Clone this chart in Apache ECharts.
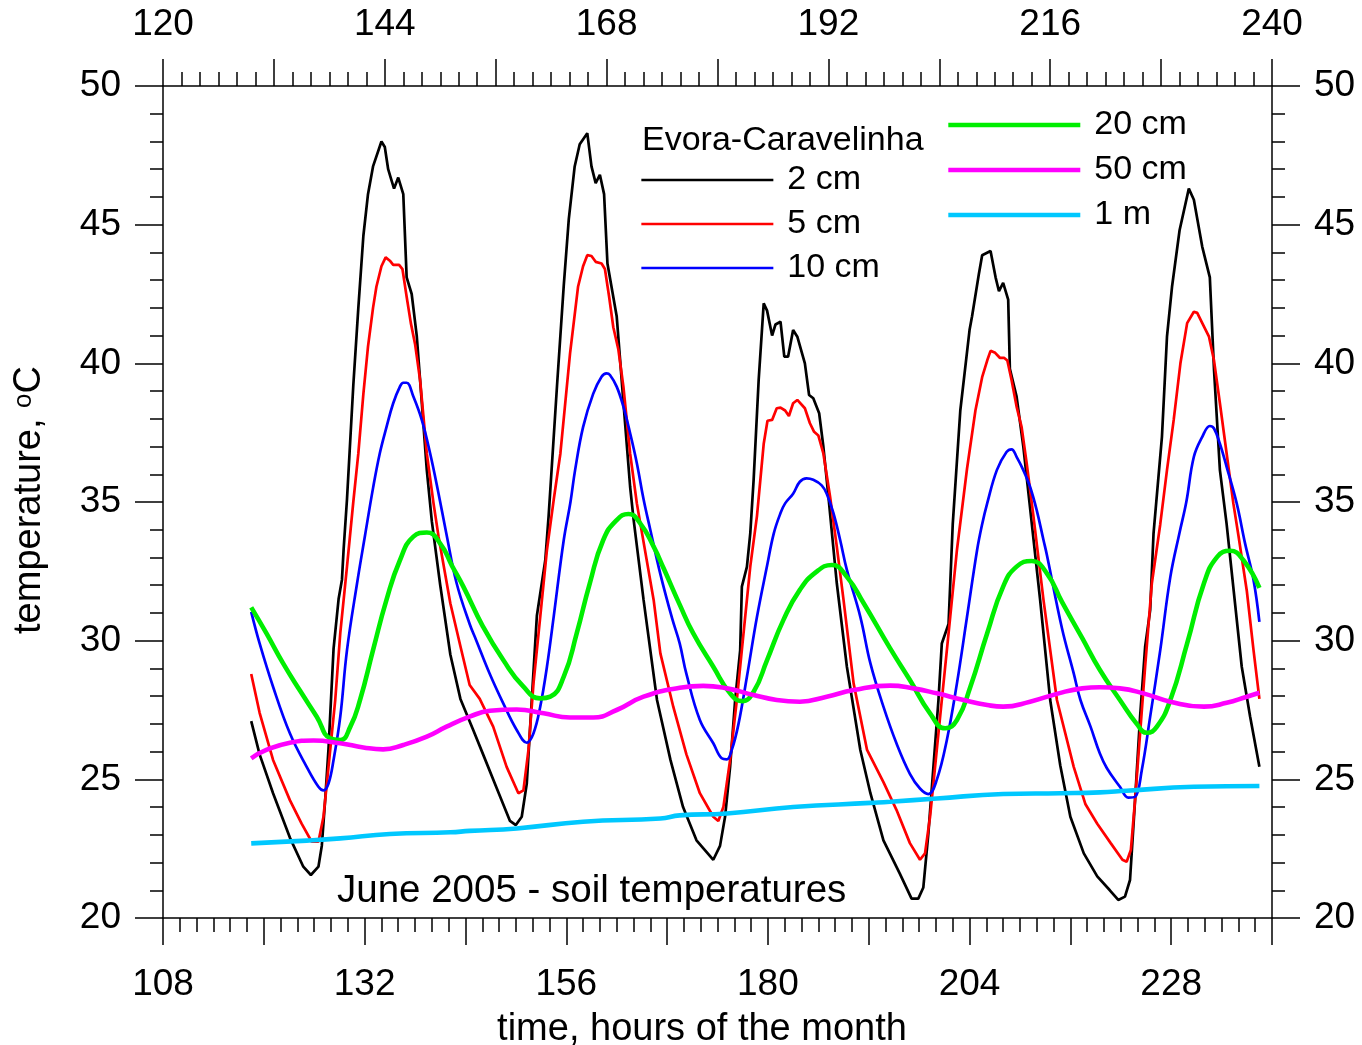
<!DOCTYPE html>
<html>
<head>
<meta charset="utf-8">
<script src="https://cdn.jsdelivr.net/npm/echarts@6/dist/echarts.min.js"></script>
<style>
html,body{margin:0;padding:0;background:#fff;}
#chart{width:1362px;height:1045px;}
</style>
</head>
<body>
<div id="chart"></div>
<script>
// Data: [hour of month, temperature °C]
var seriesNames = ['2 cm','5 cm','10 cm','20 cm','50 cm','1 m'];
var d2cm = [[118.5,27.1],[119.5,25.9],[121.1,24.5],[123.1,22.9],[124.7,21.85],[125.6,21.55],[126.5,21.85],[126.9,22.6],[127.3,24.25],[127.7,26.1],[128.3,29.7],[128.9,31.5],[129.3,32.2],[129.5,33.3],[129.9,35.1],[130.65,39.2],[131.25,42.0],[131.85,44.6],[132.4,46.1],[133.0,47.1],[134.0,48.0],[134.4,47.8],[134.8,47.0],[135.1,46.7],[135.5,46.3],[136.0,46.7],[136.6,46.1],[137.0,43.1],[137.6,42.5],[138.2,41.0],[138.8,38.6],[139.4,36.15],[140.0,34.3],[141.0,32.0],[142.2,29.5],[143.4,27.9],[144.9,26.8],[146.1,25.9],[147.7,24.7],[149.3,23.5],[150.0,23.35],[150.7,23.65],[151.3,24.85],[151.9,27.9],[152.5,30.9],[153.1,32.1],[153.5,32.9],[153.9,34.5],[154.9,39.2],[155.7,42.8],[156.3,45.2],[157.0,47.1],[157.6,47.9],[158.5,48.3],[159.0,47.1],[159.5,46.5],[160.0,46.8],[160.5,46.1],[160.9,43.6],[162.0,41.7],[162.8,38.6],[163.6,35.55],[164.0,34.4],[165.2,31.47],[166.8,27.86],[168.4,25.7],[169.9,24.0],[171.5,22.8],[172.5,22.45],[173.5,22.1],[174.3,22.6],[174.9,23.65],[175.5,25.45],[176.1,27.86],[176.7,29.66],[176.9,31.95],[177.5,32.66],[177.9,33.87],[178.3,35.8],[178.9,39.4],[179.5,42.16],[179.9,41.9],[180.5,41.0],[180.9,41.4],[181.5,41.5],[181.95,40.24],[182.4,40.24],[183.0,41.2],[183.5,40.96],[184.4,40.0],[184.9,38.86],[185.4,38.74],[186.1,38.2],[186.6,37.0],[187.2,35.2],[188.2,32.07],[189.4,29.06],[191.0,26.06],[192.2,24.5],[193.75,22.8],[195.7,21.6],[197.1,20.7],[197.9,20.7],[198.5,21.1],[199.1,23.05],[199.7,25.45],[200.3,27.86],[200.7,29.9],[201.5,30.6],[202.0,34.2],[202.9,38.3],[204.0,41.2],[204.3,41.7],[205.1,43.2],[205.5,43.9],[206.5,44.05],[207.1,43.1],[207.5,42.6],[208.0,42.9],[208.6,42.3],[208.8,39.8],[209.6,38.8],[210.4,37.0],[211.2,34.8],[212.4,31.47],[213.6,27.86],[214.8,25.5],[216.0,23.65],[217.6,22.33],[219.2,21.5],[220.7,21.0],[221.7,20.65],[222.5,20.77],[223.1,21.37],[223.7,24.25],[224.3,27.26],[224.9,29.78],[225.5,31.1],[225.9,33.87],[226.9,37.35],[227.5,40.96],[228.1,42.76],[229.0,44.8],[230.1,46.3],[230.7,45.9],[231.7,44.2],[232.6,43.1],[233.1,39.76],[233.8,36.15],[234.6,34.2],[236.4,29.06],[237.4,27.26],[238.5,25.45]];
var d5cm = [[118.5,28.8],[119.5,27.4],[121.1,25.7],[123.1,24.25],[124.5,23.4],[125.7,22.75],[126.5,22.75],[127.1,23.65],[127.7,25.45],[128.5,27.86],[129.1,30.27],[129.9,32.67],[130.65,35.0],[131.25,36.75],[131.85,38.9],[132.4,40.6],[133.0,42.0],[133.4,42.76],[134.0,43.5],[134.5,43.82],[135.0,43.7],[135.4,43.55],[136.1,43.55],[136.5,43.4],[137.0,42.4],[137.5,41.45],[138.0,40.7],[138.6,39.4],[139.4,36.75],[140.2,34.95],[140.8,33.75],[142.2,31.35],[143.4,29.8],[144.5,28.4],[145.7,27.9],[147.3,26.9],[148.9,25.45],[150.3,24.5],[150.9,24.6],[151.5,26.06],[152.1,28.46],[152.9,30.86],[153.7,33.27],[154.5,35.07],[155.3,36.75],[156.45,40.36],[157.4,42.76],[158.0,43.5],[158.5,43.9],[159.0,43.87],[159.5,43.66],[160.2,43.6],[160.6,43.4],[161.1,42.4],[161.6,41.3],[162.2,40.5],[162.8,39.16],[163.6,36.75],[164.4,34.95],[166.4,31.47],[167.2,29.54],[168.75,27.6],[170.3,25.9],[171.9,24.5],[173.5,23.65],[174.1,23.5],[174.7,24.0],[175.5,25.7],[176.3,27.86],[177.1,30.27],[177.9,32.67],[178.7,34.5],[179.1,35.8],[179.5,37.1],[179.95,37.93],[180.5,37.96],[181.05,38.38],[181.5,38.4],[182.05,38.3],[182.5,38.1],[183.0,38.56],[183.5,38.68],[184.4,38.38],[185.0,37.84],[185.5,37.53],[186.0,37.4],[186.6,36.75],[187.4,35.19],[188.2,33.39],[189.0,31.47],[190.2,28.46],[191.8,26.06],[193.75,24.9],[195.3,23.9],[196.9,22.7],[198.1,22.1],[198.7,22.33],[199.3,23.65],[200.1,26.06],[200.9,28.46],[201.7,30.86],[202.5,33.27],[203.7,36.2],[204.7,38.3],[205.5,39.5],[206.1,40.1],[206.5,40.45],[207.05,40.38],[207.6,40.2],[208.1,40.2],[208.5,40.1],[209.0,39.4],[209.6,38.44],[210.2,37.7],[210.8,36.4],[211.6,34.5],[212.8,31.47],[214.4,27.86],[216.4,25.45],[217.8,24.1],[219.2,23.4],[220.8,22.7],[222.2,22.1],[222.7,22.03],[223.2,22.45],[223.7,24.25],[224.3,26.66],[224.9,29.06],[225.7,32.07],[226.7,34.2],[227.5,36.15],[228.3,37.96],[229.1,40.0],[229.9,41.45],[230.7,41.86],[231.1,41.82],[231.7,41.45],[232.5,40.96],[233.1,40.1],[233.8,38.56],[234.6,36.75],[235.4,34.95],[236.0,33.8],[237.0,31.8],[237.8,29.66],[238.5,27.9]];
var d10cm = [[118.5,31.04],[119.5,29.9],[121.1,28.34],[123.1,26.66],[125.1,25.45],[126.5,24.73],[127.1,24.6],[127.7,24.85],[128.3,25.7],[129.1,27.26],[129.9,29.66],[131.1,32.07],[132.05,33.8],[133.0,35.5],[133.8,36.75],[134.6,37.7],[135.4,38.56],[136.2,39.16],[136.6,39.3],[137.0,39.3],[137.8,38.8],[138.8,37.96],[139.8,36.75],[140.8,35.3],[141.7,33.9],[142.95,32.07],[144.5,30.6],[145.3,30.0],[146.9,28.8],[148.5,27.74],[150.1,26.78],[151.3,26.32],[152.1,26.66],[152.9,27.62],[153.7,29.06],[154.5,30.86],[155.7,33.63],[156.5,35.0],[157.05,36.15],[158.0,37.7],[159.2,38.9],[160.2,39.52],[160.8,39.64],[161.2,39.58],[162.0,39.16],[162.8,38.44],[163.6,37.48],[164.4,36.4],[165.2,35.1],[166.0,34.0],[167.2,32.4],[168.6,30.8],[169.5,29.9],[170.3,28.8],[171.9,27.14],[173.5,26.3],[174.5,25.76],[175.1,25.72],[175.7,26.06],[176.5,27.0],[177.5,28.7],[178.7,30.86],[179.9,32.7],[180.7,33.87],[181.5,34.6],[182.05,34.95],[183.0,35.3],[183.8,35.73],[184.6,35.85],[185.4,35.8],[186.4,35.6],[187.0,35.3],[187.8,34.6],[188.6,33.63],[189.4,32.55],[191.0,30.86],[192.2,29.18],[193.75,27.62],[195.3,26.3],[196.9,25.2],[198.1,24.67],[199.1,24.47],[200.1,24.98],[201.3,26.42],[202.5,28.46],[203.7,30.86],[204.9,33.27],[205.5,34.2],[206.1,34.95],[207.25,36.15],[208.4,36.8],[209.0,36.9],[209.6,36.63],[210.4,36.15],[211.2,35.55],[212.0,34.7],[212.8,33.63],[213.2,33.1],[215.0,30.45],[216.4,28.82],[217.2,27.86],[218.4,26.9],[219.5,25.94],[220.35,25.4],[221.9,24.73],[222.9,24.34],[223.7,24.37],[224.5,25.33],[225.5,27.26],[226.7,29.66],[227.9,32.3],[229.0,33.9],[229.8,35.0],[230.7,36.63],[231.7,37.35],[232.6,37.74],[233.1,37.65],[233.8,37.1],[234.6,36.27],[235.8,34.95],[236.8,33.5],[237.8,32.19],[238.5,30.68]];
var d20cm = [[118.5,31.2],[120.3,30.27],[122.3,29.18],[124.3,28.2],[126.3,27.26],[127.9,26.48],[129.1,26.42],[130.3,26.9],[131.45,27.86],[133.0,29.66],[134.6,31.47],[136.2,32.9],[137.8,33.75],[139.4,33.9],[141.0,33.5],[142.4,32.7],[143.75,31.95],[146.1,30.5],[148.5,29.3],[150.9,28.34],[152.9,27.92],[154.1,27.98],[155.7,28.7],[157.25,30.27],[158.8,32.07],[160.4,33.63],[162.0,34.35],[163.4,34.57],[164.8,34.23],[166.4,33.39],[167.6,32.6],[169.5,31.3],[171.1,30.27],[173.5,29.06],[175.5,28.1],[176.9,27.82],[178.3,28.16],[179.9,29.3],[181.85,30.75],[183.8,31.83],[185.8,32.49],[187.6,32.73],[189.4,32.3],[191.4,31.35],[194.55,29.72],[196.9,28.58],[199.3,27.38],[201.1,26.84],[202.5,27.14],[204.1,28.34],[206.1,30.27],[208.0,31.95],[209.6,32.67],[211.4,32.87],[213.2,32.43],[215.0,31.4],[217.4,30.1],[219.5,28.95],[221.9,27.86],[223.9,27.0],[225.1,26.68],[226.3,26.9],[227.9,27.86],[229.9,29.9],[231.9,32.07],[233.5,33.03],[235.0,33.24],[236.6,32.9],[238.5,31.9]];
var d50cm = [[118.5,25.76],[120.3,26.06],[123.1,26.32],[125.9,26.4],[129.1,26.3],[131.85,26.15],[134.2,26.08],[136.6,26.24],[139.4,26.54],[141.75,26.9],[144.5,27.26],[146.9,27.47],[150.1,27.52],[153.3,27.38],[156.45,27.23],[159.2,27.23],[162.0,27.5],[165.2,27.98],[169.5,28.3],[172.3,28.37],[175.1,28.28],[178.3,28.04],[181.05,27.86],[183.8,27.8],[187.0,27.98],[190.2,28.22],[194.55,28.38],[197.3,28.28],[200.1,28.1],[203.3,27.86],[206.1,27.68],[208.0,27.62],[211.2,27.8],[214.6,28.1],[217.4,28.28],[219.5,28.32],[221.9,28.28],[224.7,28.1],[227.9,27.8],[231.9,27.62],[234.6,27.76],[237.0,27.98],[238.5,28.12]];
var d1m = [[118.5,22.69],[125.1,22.79],[129.1,22.87],[135.0,23.03],[142.2,23.09],[144.5,23.14],[150.1,23.23],[158.0,23.47],[167.2,23.59],[169.5,23.7],[175.1,23.77],[183.0,24.0],[192.2,24.15],[194.55,24.19],[200.1,24.31],[208.0,24.47],[214.8,24.5],[219.5,24.53],[222.7,24.59],[230.7,24.73],[238.5,24.76]];
var bottomTicks = {min:108, max:240, step:12, labelStep:24};
var topTicks = {min:120, max:240, step:12, labelStep:24};
var yTicks = {min:20, max:50, step:5};

var FONT = 'Liberation Sans';
var chart = echarts.init(document.getElementById('chart'), null, {renderer:'canvas'});
var axisCol = '#000';

function xAx(t, pos, margin) {
  return {
    type:'value', position:pos, min:t.min, max:t.max, interval:t.step,
    axisLine:{show:true, lineStyle:{color:axisCol, width:1.5}},
    axisTick:{show:true, inside:false, length:27, lineStyle:{color:axisCol, width:1.5}},
    minorTick:{show:true, splitNumber:6, length:14, lineStyle:{color:axisCol, width:1.5}},
    splitLine:{show:false},
    axisLabel:{show:true, margin:margin, color:'#000', fontSize:37, fontFamily:FONT,
      formatter:function(v){ return ((v - t.min) % t.labelStep === 0) ? String(v) : ''; }}
  };
}
function yAx(pos) {
  return {
    type:'value', position:pos, min:yTicks.min, max:yTicks.max, interval:yTicks.step,
    axisLine:{show:true, lineStyle:{color:axisCol, width:1.5}},
    axisTick:{show:true, inside:false, length:28, lineStyle:{color:axisCol, width:1.5}},
    minorTick:{show:true, splitNumber:5, length:13, lineStyle:{color:axisCol, width:1.5}},
    splitLine:{show:false},
    axisLabel:{show:true, margin:42, color:'#000', fontSize:37, fontFamily:FONT}
  };
}
var colors = ['#000000','#ff0000','#0000ff','#00ee00','#ff00ff','#00c8ff'];
var widths = [2.7,2.7,2.7,4.6,4.6,4.6];
var datas = [d2cm,d5cm,d10cm,d20cm,d50cm,d1m];
var smooths = [false,false,0.4,0.5,0.5,0.5];
var series = datas.map(function(d,i){
  return {name:seriesNames[i], type:'line', data:d, xAxisIndex:0, yAxisIndex:0,
    symbol:'none', smooth:smooths[i], animation:false,
    lineStyle:{color:colors[i], width:widths[i]}, itemStyle:{color:colors[i]}};
});

var legendText = {fontSize:34, fontFamily:FONT, color:'#000', lineHeight:34, padding:[0,0,0,9]};
var option = {
  animation:false,
  backgroundColor:'#fff',
  grid:{left:163, right:90, top:86, bottom:127, containLabel:false},
  xAxis:[xAx(bottomTicks,'bottom',48), xAx(topTicks,'top',43)],
  yAxis:[yAx('left'), yAx('right')],
  legend:[
    {data:['2 cm','5 cm','10 cm'], orient:'vertical', left:640, top:163, padding:0, itemWidth:132, itemHeight:14, itemGap:10,
     itemStyle:{opacity:0}, lineStyle:{width:2.7}, textStyle:legendText, selectedMode:false},
    {data:['20 cm','50 cm','1 m'], orient:'vertical', left:946, top:108, padding:0, itemWidth:132, itemHeight:14, itemGap:11,
     itemStyle:{opacity:0}, lineStyle:{width:4.6}, textStyle:legendText, selectedMode:false}
  ],
  graphic:[
    {type:'text', left:642, top:124, style:{text:'Evora-Caravelinha', font:'34px "Liberation Sans"', fill:'#000'}},
    {type:'text', x:337, y:891, style:{text:'June 2005 - soil temperatures', font:'38.5px "Liberation Sans"', fill:'#000', textVerticalAlign:'middle'}},
    {type:'text', x:702, y:1030, style:{text:'time, hours of the month', font:'38px "Liberation Sans"', fill:'#000', textAlign:'center', textVerticalAlign:'middle'}},
    {type:'text', x:30, y:500, rotation:Math.PI/2,
      style:{text:'temperature, {s|o}C', font:'38px "Liberation Sans"', fill:'#000', textAlign:'center', textVerticalAlign:'middle',
        rich:{s:{fontSize:26, fontFamily:FONT, verticalAlign:'top', fill:'#000'}}}}
  ],
  series:series
};
chart.setOption(option);
</script>
</body>
</html>
